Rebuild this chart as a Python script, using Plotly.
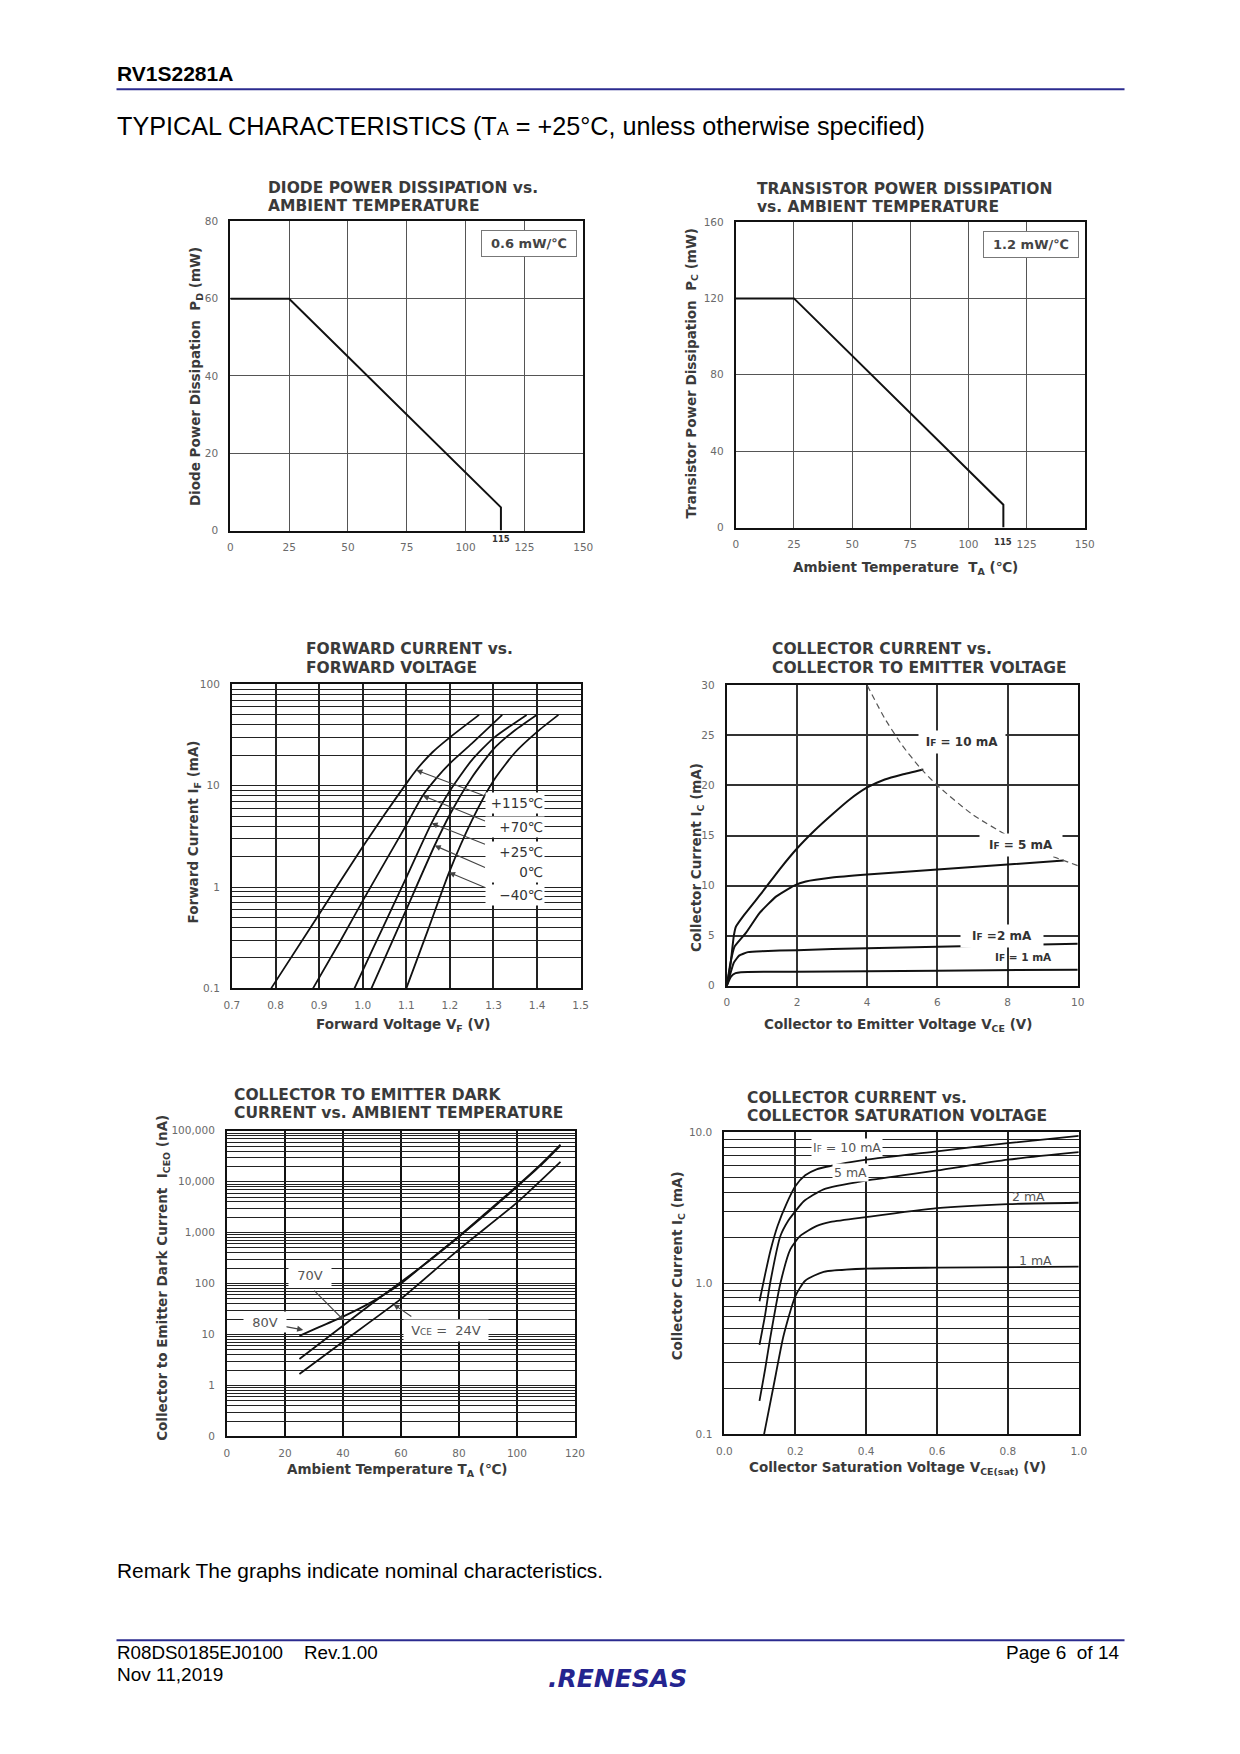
import plotly.graph_objects as go

# ===================== DATA =====================
# 1. Diode power dissipation vs ambient temperature
p1_ta = [0, 25, 115, 115]
p1_pd = [60, 60, 6, 0]
p1_xticks = [0, 25, 50, 75, 100, 125, 150]
p1_yticks = [0, 20, 40, 60, 80]

# 2. Transistor power dissipation vs ambient temperature
p2_ta = [0, 25, 115, 115]
p2_pc = [120, 120, 12, 0]
p2_xticks = [0, 25, 50, 75, 100, 125, 150]
p2_yticks = [0, 40, 80, 120, 160]

# 3. Forward current vs forward voltage (IF in mA)
vf_115 = [0.790, 0.900, 1.000, 1.050, 1.100, 1.123, 1.160, 1.200, 1.267]
if_115 = [0.1, 0.54, 2.5, 5.2, 10.5, 14.3, 21.4, 30, 50]
vf_70 = [0.886, 0.950, 1.000, 1.050, 1.100, 1.138, 1.170, 1.200, 1.250, 1.320]
if_70 = [0.1, 0.30, 0.73, 1.73, 4.1, 8.0, 12.0, 16.6, 26, 50]
vf_25 = [0.981, 1.000, 1.050, 1.100, 1.158, 1.200, 1.250, 1.300, 1.376]
if_25 = [0.1, 0.15, 0.43, 1.24, 4.27, 8.9, 17.8, 29.5, 50]
vf_0 = [1.020, 1.050, 1.100, 1.165, 1.200, 1.250, 1.300, 1.350, 1.399]
if_0 = [0.1, 0.195, 0.60, 2.57, 5.2, 12, 23, 35.5, 50]
vf_m40 = [1.100, 1.150, 1.198, 1.250, 1.300, 1.350, 1.400, 1.449]
if_m40 = [0.1, 0.38, 1.39, 4.5, 11.2, 21.4, 34, 50]
p3_labels = ["+115℃", "+70℃", "+25℃", "0℃", "−40℃"]
p3_xticks = [0.7, 0.8, 0.9, 1.0, 1.1, 1.2, 1.3, 1.4, 1.5]
p3_xticklabels = ["0.7", "0.8", "0.9", "1.0", "1.1", "1.2", "1.3", "1.4", "1.5"]
p3_yticks = [0.1, 1, 10, 100]
p3_yticklabels = ["0.1", "1", "10", "100"]

# 4. Collector current vs collector-emitter voltage (IC in mA)
vce_10 = [0, 0.1, 0.2, 0.26, 0.5, 1.0, 1.5, 2.0, 2.5, 3.0, 3.5, 4.0, 4.5, 5.0, 5.6]
ic_10 = [0, 2.0, 5.0, 5.9, 7.1, 9.3, 11.6, 13.7, 15.5, 17.1, 18.6, 19.8, 20.6, 21.1, 21.6]
vce_5 = [0, 0.1, 0.22, 0.55, 0.93, 1.4, 1.92, 2.25, 3.0, 4.0, 6.0, 8.0, 9.6]
ic_5 = [0, 2.2, 3.9, 5.3, 7.25, 8.9, 10.0, 10.4, 10.8, 11.1, 11.6, 12.1, 12.5]
vce_2 = [0, 0.1, 0.2, 0.35, 0.6, 1.0, 2.0, 4.0, 6.0, 8.0, 10.0]
ic_2 = [0, 1.2, 2.3, 3.0, 3.35, 3.45, 3.55, 3.75, 3.9, 4.05, 4.2]
vce_1 = [0, 0.12, 0.25, 0.4, 2.0, 6.0, 10.0]
ic_1 = [0, 0.9, 1.25, 1.35, 1.4, 1.5, 1.6]
vce_lim = [4, 4.5, 5, 5.5, 6, 7, 8, 9, 10]
ic_lim = [30, 26.7, 24, 21.8, 20, 17.1, 15, 13.3, 12]
p4_xticks = [0, 2, 4, 6, 8, 10]
p4_yticks = [0, 5, 10, 15, 20, 25, 30]

# 5. Collector-emitter dark current vs ambient temperature (ICEO in nA)
ta_80 = [25, 30, 40, 50, 60, 70, 80, 90, 100, 108, 115]
iceo_80 = [9.4, 12.6, 22.4, 43.7, 100, 295, 850, 2630, 8220, 21400, 53700]
ta_70 = [25, 40, 50, 60, 70, 80, 90, 100, 108, 115]
iceo_70 = [3.3, 14.8, 40.7, 107, 288, 830, 2510, 7940, 20400, 51300]
ta_24 = [25, 40, 60, 80, 100, 115]
iceo_24 = [1.67, 7.2, 50, 470, 3890, 24500]
p5_xticks = [0, 20, 40, 60, 80, 100, 120]
p5_yticks = [0.1, 1, 10, 100, 1000, 10000, 100000]
p5_yticklabels = ["0", "1", "10", "100", "1,000", "10,000", "100,000"]

# 6. Collector current vs collector saturation voltage (IC in mA)
vs_10 = [0.099, 0.115, 0.130, 0.150, 0.176, 0.200, 0.228, 0.260, 0.300, 0.400, 0.600, 0.800, 1.000]
is_10 = [0.76, 1.15, 1.65, 2.4, 3.4, 4.4, 5.2, 5.7, 6.0, 6.6, 7.5, 8.5, 9.5]
vs_5 = [0.099, 0.115, 0.129, 0.158, 0.180, 0.200, 0.224, 0.280, 0.400, 0.600, 0.800, 1.000]
is_5 = [0.39, 0.62, 1.0, 2.06, 2.6, 3.0, 3.5, 4.2, 4.8, 5.6, 6.6, 7.4]
vs_2 = [0.099, 0.115, 0.129, 0.158, 0.186, 0.214, 0.261, 0.300, 0.400, 0.600, 0.800, 1.000]
is_2 = [0.166, 0.27, 0.43, 1.0, 1.68, 2.06, 2.4, 2.55, 2.75, 3.15, 3.35, 3.42]
vs_1 = [0.112, 0.139, 0.167, 0.200, 0.228, 0.280, 0.400, 0.600, 1.000]
is_1 = [0.1, 0.21, 0.45, 0.82, 1.04, 1.19, 1.25, 1.27, 1.29]
p6_xticks = [0.0, 0.2, 0.4, 0.6, 0.8, 1.0]
p6_xticklabels = ["0.0", "0.2", "0.4", "0.6", "0.8", "1.0"]
p6_yticks = [0.1, 1, 10]
p6_yticklabels = ["0.1", "1.0", "10.0"]

# ===================== LAYOUT HELPERS =====================
W, H = 1240, 1754
# calibration of the page placement (observed slight scaling about page centre)
SX, BX = 0.9845, 8.6
SY, BY = 0.9945, 5.0


def px(x):
    return ((x - BX) / SX) / W


def py(y):
    return 1 - ((y - BY) / SY) / H


FONT = "DejaVu Sans"
PAGEFONT = "Liberation Sans"
TICKFONT = dict(family=FONT, size=10.5, color="#6a6a6a")
TITLECOL = "#3a3a3a"

# plot area rectangles in page pixels: left, right, top, bottom
RECTS = {
    1: (230.7, 583.3, 220.7, 530.3),
    2: (735.7, 1084.3, 221.3, 527.3),
    3: (232.3, 580.7, 684.3, 988.7),
    4: (726.7, 1077.3, 685.3, 986.0),
    5: (227.3, 575.0, 1131.3, 1437.3),
    6: (724.3, 1078.3, 1133.0, 1435.0),
}


def log_grid(lo_exp, hi_exp):
    vals = []
    for e in range(lo_exp, hi_exp):
        for d in range(1, 10):
            vals.append(d * 10 ** e)
    vals.append(10 ** hi_exp)
    return vals


def axis(i, which, rng, tickvals, ticktext, typ="linear", gridcolor="#444", gridwidth=1):
    l, r, t, b = RECTS[i]
    if which == "x":
        dom = [px(l), px(r)]
        anchor = "y" if i == 1 else f"y{i}"
    else:
        dom = [py(b), py(t)]
        anchor = "x" if i == 1 else f"x{i}"
    d = dict(domain=dom, range=rng, anchor=anchor, type=typ,
             tickmode="array", tickvals=tickvals, ticktext=ticktext,
             showline=True, linecolor="#111", linewidth=2, mirror=True,
             showgrid=True, gridcolor=gridcolor, gridwidth=gridwidth,
             zeroline=False, ticks="", tickfont=TICKFONT, fixedrange=True)
    d["ticklabelstandoff"] = 6 if which == "x" else 8
    return d


def log_ticks(vals_with_labels, lo_exp, hi_exp):
    grid = log_grid(lo_exp, hi_exp)
    lab = {round(v, 6): t for v, t in vals_with_labels}
    text = [lab.get(round(v, 6), "") for v in grid]
    return grid, text


fig = go.Figure()


def curve(i, x, y, dash="solid", color="#111", width=2, shape="spline", smoothing=0.6):
    xa = "x" if i == 1 else f"x{i}"
    ya = "y" if i == 1 else f"y{i}"
    line = dict(color=color, width=width, dash=dash, shape=shape)
    if shape == "spline":
        line["smoothing"] = smoothing
    fig.add_trace(go.Scatter(x=x, y=y, mode="lines", xaxis=xa, yaxis=ya, line=line,
                             showlegend=False, hoverinfo="skip"))


# ----- traces -----
curve(1, p1_ta, p1_pd, shape="linear")
curve(2, p2_ta, p2_pc, shape="linear")
for vx, iy in [(vf_115, if_115), (vf_70, if_70), (vf_25, if_25), (vf_0, if_0), (vf_m40, if_m40)]:
    curve(3, vx, iy, width=1.8)
for vx, iy in [(vce_10, ic_10), (vce_5, ic_5), (vce_2, ic_2), (vce_1, ic_1)]:
    curve(4, vx, iy, width=2, smoothing=0.4)
curve(4, vce_lim, ic_lim, dash="6px,4px", color="#555", width=1.2)
for tx, iy in [(ta_80, iceo_80), (ta_70, iceo_70), (ta_24, iceo_24)]:
    curve(5, tx, iy, width=1.8)
for vx, iy in [(vs_10, is_10), (vs_5, is_5), (vs_2, is_2), (vs_1, is_1)]:
    curve(6, vx, iy, width=1.8)

# ----- axes -----
lay = {}
lay["xaxis"] = axis(1, "x", [0, 150], p1_xticks, [str(v) for v in p1_xticks], gridcolor="#555")
lay["yaxis"] = axis(1, "y", [0, 80], p1_yticks, [str(v) for v in p1_yticks], gridcolor="#555")
lay["xaxis2"] = axis(2, "x", [0, 150], p2_xticks, [str(v) for v in p2_xticks], gridcolor="#555")
lay["yaxis2"] = axis(2, "y", [0, 160], p2_yticks, [str(v) for v in p2_yticks], gridcolor="#555")

lay["xaxis3"] = axis(3, "x", [0.7, 1.5], p3_xticks, p3_xticklabels, gridcolor="#222", gridwidth=1.5)
g3, t3 = log_ticks(list(zip(p3_yticks, p3_yticklabels)), -1, 2)
lay["yaxis3"] = axis(3, "y", [-1, 2], g3, t3, typ="log", gridcolor="#222", gridwidth=1.3)

lay["xaxis4"] = axis(4, "x", [0, 10], p4_xticks, [str(v) for v in p4_xticks], gridcolor="#333", gridwidth=2)
lay["yaxis4"] = axis(4, "y", [0, 30], p4_yticks, [str(v) for v in p4_yticks], gridcolor="#333", gridwidth=2)

lay["xaxis5"] = axis(5, "x", [0, 120], p5_xticks, [str(v) for v in p5_xticks], gridcolor="#111", gridwidth=1.5)
g5, t5 = log_ticks(list(zip(p5_yticks, p5_yticklabels)), -1, 5)
lay["yaxis5"] = axis(5, "y", [-1, 5], g5, t5, typ="log", gridcolor="#222", gridwidth=1)

lay["xaxis6"] = axis(6, "x", [0, 1.0], p6_xticks, p6_xticklabels, gridcolor="#222", gridwidth=1.5)
g6, t6 = log_ticks(list(zip(p6_yticks, p6_yticklabels)), -1, 1)
lay["yaxis6"] = axis(6, "y", [-1, 1], g6, t6, typ="log", gridcolor="#222", gridwidth=1.3)

anns = []


def page_text(text, x, y, size, xanchor="left", bold=False, color="#000", family=PAGEFONT, angle=0):
    if bold:
        text = f"<b>{text}</b>"
    anns.append(dict(text=text, x=px(x), y=py(y), xref="paper", yref="paper",
                     xanchor=xanchor, yanchor="middle", showarrow=False, textangle=angle,
                     font=dict(family=family, size=size, color=color)))


# ----- page header / footer -----
page_text("RV1S2281A", 115, 73, 21, bold=True)
page_text("TYPICAL CHARACTERISTICS (T<span style='font-size:18px'>A</span> = +25°C, unless otherwise specified)",
          115, 125, 25.2)
page_text("Remark The graphs indicate nominal characteristics.", 115, 1572, 20.9)
page_text("R08DS0185EJ0100\u00a0\u00a0\u00a0\u00a0Rev.1.00", 115, 1654, 18.8)
page_text("Nov 11,2019", 115, 1676, 19)
page_text("Page\u00a06\u00a0\u00a0of\u00a014", 1120, 1654, 19, xanchor="right")
page_text("<i>.RENESAS</i>", 617, 1680, 25, xanchor="center", bold=True, color="#24248f", family="DejaVu Sans")

shapes = []
for yline in (88.3, 1641.5):
    shapes.append(dict(type="line", xref="paper", yref="paper", x0=px(117), x1=px(1124),
                       y0=py(yline), y1=py(yline), line=dict(color="#2b2b8f", width=2)))

# ----- chart titles -----
titles = {
    1: ("DIODE POWER DISSIPATION vs.", "AMBIENT TEMPERATURE", 266, 187),
    2: ("TRANSISTOR POWER DISSIPATION", "vs. AMBIENT TEMPERATURE", 755, 188),
    3: ("FORWARD CURRENT vs.", "FORWARD VOLTAGE", 304, 649),
    4: ("COLLECTOR CURRENT vs.", "COLLECTOR TO EMITTER VOLTAGE", 770, 649),
    5: ("COLLECTOR TO EMITTER DARK", "CURRENT vs. AMBIENT TEMPERATURE", 232, 1095),
    6: ("COLLECTOR CURRENT vs.", "COLLECTOR SATURATION VOLTAGE", 745, 1098),
}
for i, (l1, l2, x, y) in titles.items():
    page_text(l1, x, y, 15.5, bold=True, color=TITLECOL, family=FONT)
    page_text(l2, x, y + 18.5, 15.5, bold=True, color=TITLECOL, family=FONT)

# ----- axis titles -----
ytitles = {
    1: ("Diode Power Dissipation\u00a0\u00a0P<sub>D</sub>\u00a0(mW)", 197, 376),
    2: ("Transistor Power Dissipation\u00a0\u00a0P<sub>C</sub>\u00a0(mW)", 691, 373),
    3: ("Forward Current I<sub>F</sub>\u00a0(mA)", 194, 832),
    4: ("Collector Current I<sub>C</sub>\u00a0(mA)", 697, 858),
    5: ("Collector to Emitter Dark Current\u00a0\u00a0I<sub>CEO</sub>\u00a0(nA)", 164, 1279),
    6: ("Collector Current I<sub>C</sub>\u00a0(mA)", 678, 1267),
}
for i, (t, x, y) in ytitles.items():
    page_text(t, x, y, 13.5, xanchor="center", bold=True, color=TITLECOL, family=FONT, angle=-90)

xtitles = {
    2: ("Ambient Temperature\u00a0\u00a0T<sub>A</sub>\u00a0(℃)", 905, 568),
    3: ("Forward Voltage V<sub>F</sub>\u00a0(V)", 403, 1025),
    4: ("Collector to Emitter Voltage V<sub>CE</sub>\u00a0(V)", 898, 1025),
    5: ("Ambient Temperature T<sub>A</sub>\u00a0(℃)", 397, 1471),
    6: ("Collector Saturation Voltage V<sub>CE(sat)</sub>\u00a0(V)", 897, 1469),
}
for i, (t, x, y) in xtitles.items():
    page_text(t, x, y, 13.5, xanchor="center", bold=True, color=TITLECOL, family=FONT)


def data_text(i, text, x, y, size=13, bold=False, color="#333", xanchor="center", bg="white",
              border=None, width=None, height=None, align="center"):
    xa = "x" if i == 1 else f"x{i}"
    ya = "y" if i == 1 else f"y{i}"
    if bold:
        text = f"<b>{text}</b>"
    d = dict(text=text, x=x, y=y, xref=xa, yref=ya, xanchor=xanchor, yanchor="middle",
             showarrow=False, font=dict(family=FONT, size=size, color=color), align=align)
    if bg:
        d["bgcolor"] = bg
    if border:
        d["bordercolor"] = border
        d["borderwidth"] = 1
    if width:
        d["width"] = width
    if height:
        d["height"] = height
    anns.append(d)


def arrow(i, x, y, ax, ay):
    xa = "x" if i == 1 else f"x{i}"
    ya = "y" if i == 1 else f"y{i}"
    anns.append(dict(text="", x=x, y=y, ax=ax, ay=ay, xref=xa, yref=ya, axref=xa, ayref=ya,
                     showarrow=True, arrowhead=2, arrowsize=1.1, arrowwidth=1.1, arrowcolor="#444"))


# panel 1 & 2 boxes and 115 marks
data_text(1, "0.6 mW/℃", 127.1, 74.2, size=13, bold=True, color="#444", border="#777",
          width=92, height=23)
data_text(2, "1.2 mW/℃", 126.9, 148.4, size=13, bold=True, color="#444", border="#777",
          width=92, height=23)
page_text("<b>115</b>", 501, 539, 8.5, xanchor="center", color="#333", family=FONT)
page_text("<b>115</b>", 1003, 542, 8.5, xanchor="center", color="#333", family=FONT)

# panel 3 labels and arrows
p3_label_y = [0.826, 0.597, 0.344, 0.148, -0.075]
p3_tips = [(1.123, 1.154), (1.138, 0.902), (1.158, 0.630), (1.165, 0.410), (1.198, 0.144)]
p3_tails = [(1.284, 0.892), (1.284, 0.646), (1.284, 0.416), (1.284, 0.187), (1.284, -0.010)]
for lab, ly, tip, tail in zip(p3_labels, p3_label_y, p3_tips, p3_tails):
    arrow(3, tip[0], tip[1], tail[0], tail[1])
    data_text(3, lab, 1.419, ly, size=13.5, color="#333", xanchor="right", width=56, height=18,
              align="right")

# panel 4 labels
IF = "I<span style='font-size:9px'>F</span>"
data_text(4, f"{IF} = 10 mA", 6.71, 24.35, size=12, bold=True, color="#333", width=84, height=20)
data_text(4, f"{IF} = 5 mA", 8.37, 14.07, size=12, bold=True, color="#333", width=80, height=20)
data_text(4, f"{IF} =2 mA", 7.83, 5.0, size=12, bold=True, color="#333", width=80, height=20)
data_text(4, f"{IF} = 1 mA", 8.46, 2.9, size=10.5, bold=True, color="#333", bg=None)

# panel 5 labels & arrows
arrow(5, 40.5, 1.268, 29.6, 1.889)
arrow(5, 26.3, 1.09, 18.8, 1.17)
arrow(5, 57.4, 1.595, 64.1, 1.333)
data_text(5, "70V", 28.5, 2.149, size=13, color="#555", width=40, height=19)
data_text(5, "80V", 13.3, 1.247, size=13, color="#555", width=40, height=18)
data_text(5, "V<span style='font-size:9px'>CE</span> =\u00a0\u00a024V", 75.7, 1.084, size=13, color="#555",
          width=82, height=19)

# panel 6 labels
data_text(6, f"{IF} = 10 mA", 0.346, 0.899, size=12.5, color="#555")
data_text(6, "5 mA", 0.355, 0.733, size=12.5, color="#555")
data_text(6, "2 mA", 0.859, 0.574, size=12.5, color="#555", bg=None)
data_text(6, "1 mA", 0.878, 0.154, size=12.5, color="#555", bg=None)

fig.update_layout(
    width=W, height=H, margin=dict(l=0, r=0, t=0, b=0),
    paper_bgcolor="white", plot_bgcolor="white",
    annotations=anns, shapes=shapes, showlegend=False,
    **lay,
)

fig.write_html("out.html", config={"displayModeBar": False},
               post_script="document.body.style.margin='0';document.body.style.overflow='hidden';")
